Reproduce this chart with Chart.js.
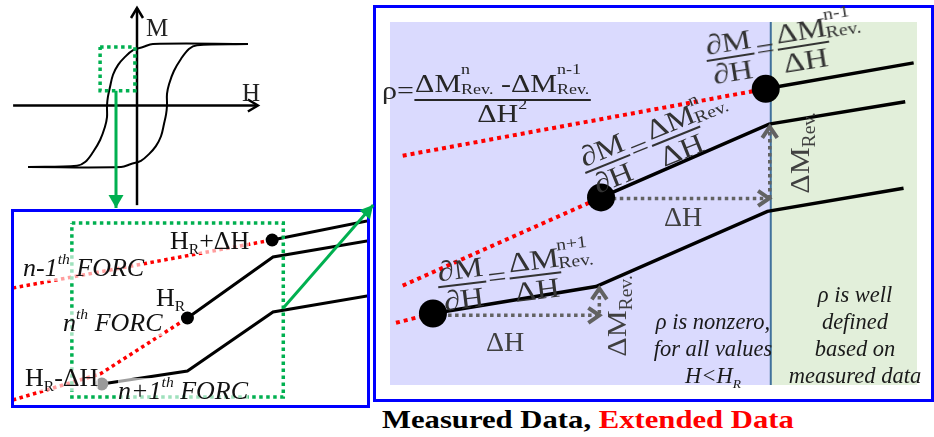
<!DOCTYPE html>
<html>
<head>
<meta charset="utf-8">
<script src="https://cdn.jsdelivr.net/npm/chart.js@4.4.1/dist/chart.umd.min.js"></script>
<style>
html,body{margin:0;padding:0;background:#fff}
body{width:934px;height:437px;position:relative;overflow:hidden;font-family:"Liberation Serif","Times New Roman",serif;color:#1a1a1a}
canvas{position:absolute;display:block}
.box{position:absolute;box-sizing:border-box;border:3px solid #0000ff}
.abs{position:absolute;white-space:nowrap;line-height:1}
.lbl{background:rgba(255,255,255,0.62);font-size:26px;color:#111}
.it{font-style:italic}
.up{position:relative;font-size:0.6em;top:-0.75em}
.dn{position:relative;font-size:0.6em;top:0.35em}
.f{position:absolute;white-space:nowrap;line-height:1;color:#333;font-size:28px;transform:translate(-50%,-50%) rotate(var(--r)) scaleX(var(--s,1.18));}
.fr{display:inline-flex;flex-direction:column;align-items:center;vertical-align:middle}
.fr>span{display:block;line-height:1}
.fr>.nu{border-bottom:2px solid currentColor;padding:0 1px}
.eq{margin:0 2px}
.ss{display:inline-flex;flex-direction:column;align-items:flex-start;font-size:0.6em;line-height:1.05;vertical-align:28px;margin-left:-2px}
.ss2{display:inline-flex;flex-direction:column;align-items:flex-start;font-size:0.6em;line-height:1.3;vertical-align:18px}
.txt{position:absolute;font-style:italic;font-size:22.5px;line-height:27px;text-align:center;color:#1a1a1a;white-space:nowrap}
</style>
</head>
<body>
<div class="box" style="left:11px;top:209px;width:359px;height:199px"></div>
<div class="box" style="left:373px;top:5px;width:561px;height:397px"></div>
<canvas id="cRight" width="555" height="391" style="left:376px;top:8px"></canvas>
<canvas id="cLoop" width="265" height="215" style="left:0;top:0"></canvas>
<canvas id="cBox" width="380" height="215" style="left:0;top:200px"></canvas>

<!-- panel A labels -->
<div class="abs" style="left:146px;top:15px;font-size:25px;color:#222">M</div>
<div class="abs" style="left:242px;top:80px;font-size:25px;color:#222">H</div>

<!-- panel B labels -->
<div class="abs lbl" style="left:170px;top:228px">H<span class="dn">R</span>+ΔH</div>
<div class="abs lbl it" style="left:23px;top:255px">n-1<span class="up">th</span> FORC</div>
<div class="abs lbl" style="left:156px;top:285px">H<span class="dn">R</span></div>
<div class="abs lbl it" style="left:63px;top:310px">n<span class="up">th</span> FORC</div>
<div class="abs lbl" style="left:25px;top:365px">H<span class="dn">R</span>-ΔH</div>
<div class="abs lbl it" style="left:118px;top:378px">n+1<span class="up">th</span> FORC</div>

<!-- panel C labels -->
<div class="abs" style="left:382px;top:60px;font-size:25px;color:#262626;transform:scaleX(1.2);transform-origin:left top">ρ=<span class="fr"><span class="nu">ΔM<span class="ss2"><span>n</span><span>Rev.</span></span> -ΔM<span class="ss2"><span>n-1</span><span>Rev.</span></span></span><span>ΔH<span class="up" style="top:-0.9em">2</span></span></span></div>

<div class="f" style="left:784px;top:45px;--r:-9deg"><span class="fr"><span class="nu">∂M</span><span>∂H</span></span><span class="eq">=</span><span class="fr"><span class="nu">ΔM</span><span>ΔH</span></span><span class="ss"><span>n-1</span><span>Rev.</span></span></div>
<div class="f" style="left:657px;top:140px;--r:-22deg"><span class="fr"><span class="nu">∂M</span><span>∂H</span></span><span class="eq">=</span><span class="fr"><span class="nu">ΔM</span><span>ΔH</span></span><span class="ss"><span>n</span><span>Rev.</span></span></div>
<div class="f" style="left:516px;top:274px;--r:-7deg"><span class="fr"><span class="nu">∂M</span><span>∂H</span></span><span class="eq">=</span><span class="fr"><span class="nu">ΔM</span><span>ΔH</span></span><span class="ss"><span>n+1</span><span>Rev.</span></span></div>

<div class="abs" style="left:486px;top:328px;font-size:28px;color:#404040">ΔH</div>
<div class="abs" style="left:664px;top:203px;font-size:28px;color:#404040">ΔH</div>
<div class="f" style="left:617px;top:316px;--r:-90deg;--s:1.08;color:#404040">ΔM<span class="dn" style="font-size:0.65em">Rev.</span></div>
<div class="f" style="left:800px;top:153px;--r:-90deg;--s:1.08;color:#404040">ΔM<span class="dn" style="font-size:0.65em">Rev.</span></div>

<div class="txt" style="left:633px;width:160px;top:308px">ρ is nonzero,<br>for all values<br>H&lt;H<span class="dn">R</span></div>
<div class="txt" style="left:780px;width:150px;top:281px">ρ is well<br>defined<br>based on<br>measured data</div>

<div class="abs" style="left:382px;top:407px;font-size:26px;font-weight:bold;color:#000;transform:scaleX(1.18);transform-origin:left top">Measured Data, <span style="color:#ff0000">Extended Data</span></div>

<script>
// ---------------- Panel A: major hysteresis loop (normalised H, M) ----------------
const loopDescH = [3.70, 0.53, 0.20, -0.13, -0.40, -0.63, -0.80, -0.90, -0.97, -1.00, -1.00, -1.07, -1.23, -1.47, -1.73, -2.00, -3.63];
const loopDescM = [1.00, 1.00, 0.95, 0.90, 0.79, 0.66, 0.50, 0.30, 0.14, 0.00, -0.19, -0.35, -0.56, -0.76, -0.92, -0.98, -1.00];
const loopAscH  = [-3.63, -0.53, -0.20, 0.13, 0.40, 0.63, 0.80, 0.90, 0.97, 1.00, 1.00, 1.07, 1.23, 1.47, 1.73, 2.00, 3.70];
const loopAscM  = [-1.00, -1.00, -0.95, -0.90, -0.79, -0.66, -0.50, -0.30, -0.14, 0.00, 0.19, 0.35, 0.56, 0.76, 0.92, 0.98, 1.00];
const axisHH = [-4.13, 4.03], axisHM = [0, 0];
const axisMH = [0, 0],        axisMM = [-1.62, 1.585];
const zoomBoxAH = [-1.23, -0.07, -0.07, -1.23, -1.23];
const zoomBoxAM = [0.95, 0.95, 0.24, 0.24, 0.95];
const arrowDownH = [-0.70, -0.70], arrowDownM = [0.24, -1.667];

// ---------------- Panel B: three neighbouring FORCs ----------------
const bPrevMeasH = [-0.01, 1.10],            bPrevMeasM = [3.34, 3.72];
const bPrevExtH  = [-3.04, -0.01],           bPrevExtM  = [2.38, 3.34];
const bCurMeasH  = [-1.00, 0.00, 1.10],      bCurMeasM  = [1.78, 3.00, 3.32];
const bCurExtH   = [-3.04, -2.02, -1.00],    bCurExtM   = [0.14, 0.66, 1.78];
const bNextMeasH = [-2.00, -1.00, 0.00, 1.10], bNextMeasM = [0.46, 0.72, 1.90, 2.22];
const bDotsH = [-0.01, -1.00], bDotsM = [3.34, 1.78];
const bGreyDotH = [-2.00], bGreyDotM = [0.46];
const bZoomH = [-2.35, 0.12, 0.12, -2.35, -2.35];
const bZoomM = [3.68, 3.68, 0.20, 0.20, 3.68];
const bLinkH = [0.12, 1.17], bLinkM = [1.98, 4.04];

// ---------------- Panel C: magnified FORCs around H_R ----------------
const cPrevMeasH = [-0.03, 0.85],               cPrevMeasM = [3.19, 3.47];
const cPrevExtH  = [-2.19, -0.03],              cPrevExtM  = [2.47, 3.19];
const cCurMeasH  = [-1.01, -0.01, 0.80],        cCurMeasM  = [2.02, 2.81, 3.05];
const cCurExtH   = [-2.19, -1.01],              cCurExtM   = [1.07, 2.02];
const cNextMeasH = [-2.01, -1.04, -0.02, 0.79], cNextMeasM = [0.77, 1.06, 1.87, 2.12];
const cNextExtH  = [-2.23, -2.01],              cNextExtM  = [0.67, 0.77];
const cDotsH = [-0.03, -1.01, -2.01], cDotsM = [3.19, 2.02, 0.77];
const cStepH1H = [-1.92, -1.02], cStepH1M = [0.75, 0.75];
const cStepM1H = [-1.02, -1.02], cStepM1M = [0.77, 1.04];
const cStepH2H = [-0.94, -0.01], cStepH2M = [2.01, 2.01];
const cStepM2H = [-0.006, -0.006], cStepM2M = [2.01, 2.78];
const cHR = 0;

const RED = '#ff0000', BLACK = '#000000', GREEN = '#00b050', GREY = '#626262';

function pts(xs, ys) { return xs.map((x, i) => ({ x: x, y: ys[i] })); }
function line(xs, ys, color, width, dash, extra) {
  return Object.assign({ data: pts(xs, ys), showLine: true, borderColor: color, backgroundColor: color,
    borderWidth: width, borderDash: dash || [], pointRadius: 0, fill: false, tension: 0 }, extra || {});
}
function dots(xs, ys, color, r) {
  return { data: pts(xs, ys), showLine: false, pointRadius: r, pointBackgroundColor: color,
    pointBorderWidth: 0, pointBorderColor: color, backgroundColor: color };
}

const arrowPlugin = {
  id: 'arrowHeads',
  afterDatasetsDraw(chart) {
    const ctx = chart.ctx;
    chart.data.datasets.forEach((ds, i) => {
      if (!ds.arrowHead) return;
      const p = chart.getDatasetMeta(i).data;
      const a = p[p.length - 2], b = p[p.length - 1];
      const ang = Math.atan2(b.y - a.y, b.x - a.x);
      const L = ds.arrowLen || 10, W = ds.arrowHalf || 6;
      ctx.save();
      ctx.translate(b.x, b.y); ctx.rotate(ang);
      ctx.beginPath(); ctx.moveTo(-L, -W); ctx.lineTo(0, 0); ctx.lineTo(-L, W);
      if (ds.arrowHead === 'triangle') { ctx.closePath(); ctx.fillStyle = ds.borderColor; ctx.fill(); }
      else { ctx.setLineDash([]); ctx.strokeStyle = ds.borderColor; ctx.lineWidth = ds.arrowLine || 2.5; ctx.lineJoin = 'miter'; ctx.stroke(); }
      ctx.restore();
    });
  }
};

const regionPlugin = {
  id: 'regions',
  beforeDatasetsDraw(chart, args, o) {
    if (o.split === undefined) return;
    const { ctx, chartArea: { left, right, top, bottom }, scales: { x } } = chart;
    const xs = x.getPixelForValue(o.split);
    ctx.save();
    ctx.fillStyle = o.leftColor; ctx.fillRect(left, top, xs - left, bottom - top);
    ctx.fillStyle = o.rightColor; ctx.fillRect(xs, top, right - xs, bottom - top);
    ctx.strokeStyle = o.lineColor; ctx.lineWidth = 2;
    ctx.beginPath(); ctx.moveTo(xs, top); ctx.lineTo(xs, bottom); ctx.stroke();
    ctx.restore();
  }
};

function makeChart(id, xmin, xmax, ymin, ymax, datasets, pad, extraPlugins, pluginOpts) {
  return new Chart(document.getElementById(id), {
    type: 'scatter',
    data: { datasets: datasets },
    options: {
      responsive: false, animation: false, events: [],
      layout: { padding: pad || 0 },
      plugins: Object.assign({ legend: { display: false }, tooltip: { enabled: false } }, pluginOpts || {}),
      scales: {
        x: { type: 'linear', display: false, min: xmin, max: xmax },
        y: { type: 'linear', display: false, min: ymin, max: ymax }
      }
    },
    plugins: [arrowPlugin].concat(extraPlugins || [])
  });
}

// Panel A
makeChart('cLoop', -4.567, 4.267, -1.780, 1.715, [
  line(arrowDownH, arrowDownM, GREEN, 3, [], { arrowHead: 'triangle', arrowLen: 13, arrowHalf: 7.5, clip: false }),
  line(zoomBoxAH, zoomBoxAM, GREEN, 3.5, [3.5, 3.5]),
  line(loopDescH, loopDescM, BLACK, 2, [], { tension: 0.35 }),
  line(loopAscH, loopAscM, BLACK, 2, [], { tension: 0.35 }),
  line(axisHH, axisHM, BLACK, 2.5, [], { arrowHead: 'chevron', arrowLen: 10, arrowHalf: 6 }),
  line(axisMH, axisMM, BLACK, 2.5, [], { arrowHead: 'chevron', arrowLen: 10, arrowHalf: 6 })
]);

// Panel B
makeChart('cBox', -3.026, 1.098, 0.04, 3.90, [
  line(bLinkH, bLinkM, GREEN, 3, [], { arrowHead: 'triangle', arrowLen: 13, arrowHalf: 7, clip: false }),
  dots(bDotsH, bDotsM, BLACK, 6.5),
  dots(bGreyDotH, bGreyDotM, '#9a9a9a', 6.5),
  line(bZoomH, bZoomM, GREEN, 3.5, [3.5, 3.5]),
  line(bPrevMeasH, bPrevMeasM, BLACK, 3),
  line(bCurMeasH, bCurMeasM, BLACK, 3),
  line(bNextMeasH, bNextMeasM, BLACK, 3),
  line(bPrevExtH, bPrevExtM, RED, 3.5, [3.5, 3.5]),
  line(bCurExtH, bCurExtM, RED, 3.5, [3.5, 3.5])
], { left: 14, top: 12, right: 13, bottom: 10 });

// Panel C
makeChart('cRight', -2.2655, 0.870, 0, 3.91, [
  dots(cDotsH, cDotsM, BLACK, 14),
  line(cStepH1H, cStepH1M, GREY, 3.5, [3.5, 3.5], { arrowHead: 'chevron', arrowLen: 11, arrowHalf: 7.5, arrowLine: 4 }),
  line(cStepM1H, cStepM1M, GREY, 3.5, [3.5, 3.5], { arrowHead: 'chevron', arrowLen: 11, arrowHalf: 7.5, arrowLine: 4 }),
  line(cStepH2H, cStepH2M, GREY, 3.5, [3.5, 3.5], { arrowHead: 'chevron', arrowLen: 11, arrowHalf: 7.5, arrowLine: 4 }),
  line(cStepM2H, cStepM2M, GREY, 3.5, [3.5, 3.5], { arrowHead: 'chevron', arrowLen: 11, arrowHalf: 7.5, arrowLine: 4 }),
  line(cPrevMeasH, cPrevMeasM, BLACK, 3.5),
  line(cCurMeasH, cCurMeasM, BLACK, 3.5),
  line(cNextMeasH, cNextMeasM, BLACK, 3.5),
  line(cPrevExtH, cPrevExtM, RED, 4, [4, 4]),
  line(cCurExtH, cCurExtM, RED, 4, [4, 4]),
  line(cNextExtH, cNextExtM, RED, 4, [4, 4])
], 0, [regionPlugin], { regions: { split: cHR, leftColor: '#dadafe', rightColor: '#e2efda', lineColor: '#41719c' } });
</script>
</body>
</html>
